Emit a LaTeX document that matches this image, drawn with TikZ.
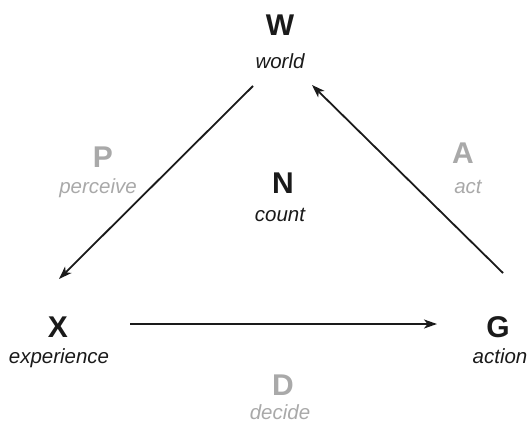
\documentclass[tikz,border=0pt]{standalone}
\usepackage{fontspec}
\setmainfont{Liberation Sans}
\usetikzlibrary{arrows.meta}
\definecolor{ink}{HTML}{1A1A1A}
\definecolor{pale}{HTML}{A9A9A9}
\tikzset{
  letterlbl/.style={anchor=base, inner sep=0pt, font=\fontsize{30}{30}\selectfont\bfseries},
  wordlbl/.style={anchor=base, inner sep=0pt, font=\fontsize{20.5}{20.5}\selectfont\itshape},
  link/.style={draw=ink, line width=1.8pt, -{Stealth[length=13pt, width=9pt, inset=3.5pt]}}
}
\begin{document}
\begin{tikzpicture}[x=1pt, y=-1pt]
\useasboundingbox (0,0) rectangle (530,423);
% main nodes
\node[letterlbl, text=ink] (W) at (280,35) {W};
\node[wordlbl, text=ink] (Ww) at (280,68) {world};
\node[letterlbl, text=ink] (X) at (58,337) {X};
\node[wordlbl, text=ink] (Xw) at (59,363) {experience};
\node[letterlbl, text=ink] (G) at (498,337) {G};
\node[wordlbl, text=ink] (Gw) at (500,363) {action};
\node[letterlbl, text=ink] (N) at (283,193) {N};
\node[wordlbl, text=ink] (Nw) at (280,221) {count};
% pale labels
\node[letterlbl, text=pale] (P) at (103,167) {P};
\node[wordlbl, text=pale] (Pw) at (98,193) {perceive};
\node[letterlbl, text=pale] (A) at (463,163) {A};
\node[wordlbl, text=pale] (Aw) at (468,193) {act};
\node[letterlbl, text=pale] (D) at (283,395) {D};
\node[wordlbl, text=pale] (Dw) at (280,419) {decide};
% connector ends
\coordinate (wxs) at (253,86);
\coordinate (wxe) at (59,279);
\coordinate (gws) at (503,273);
\coordinate (gwe) at (312,85);
\coordinate (xgs) at (130,324);
\coordinate (xge) at (437,324);
\draw[link] (wxs) -- (wxe);
\draw[link] (gws) -- (gwe);
\draw[link] (xgs) -- (xge);
\end{tikzpicture}
\end{document}
